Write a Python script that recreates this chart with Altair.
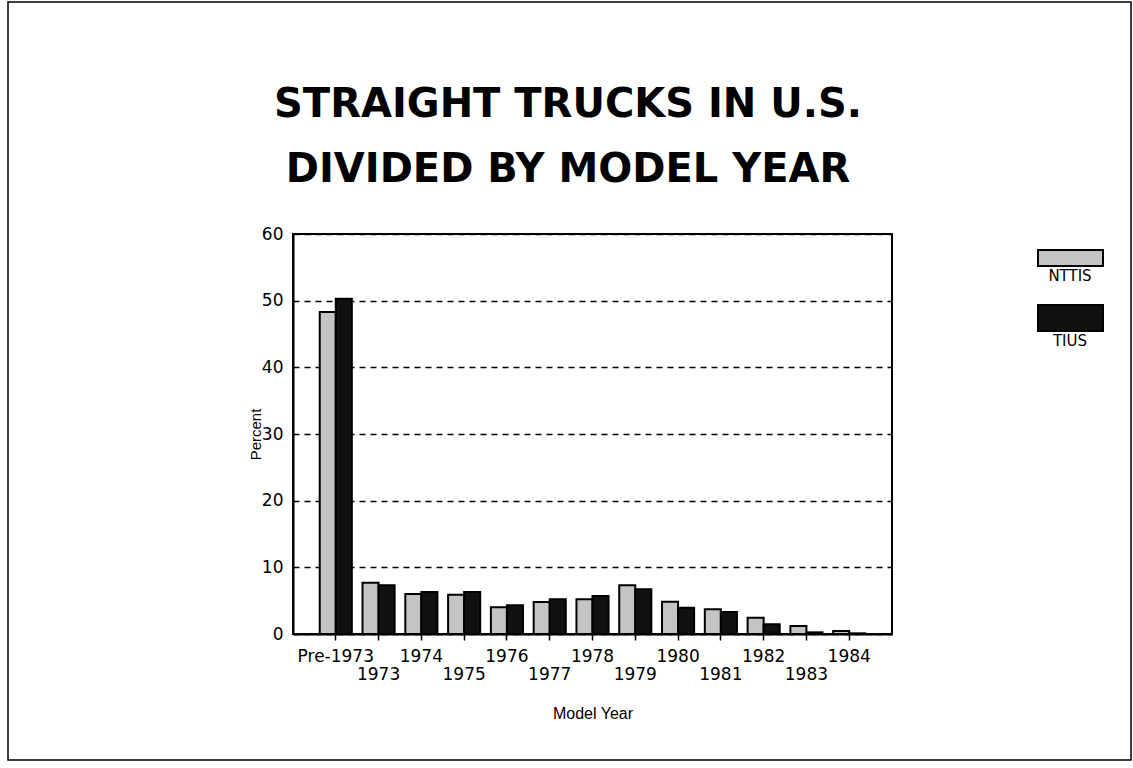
import altair as alt
import pandas as pd

# Model-year categories and the share (%) of straight trucks in each
years = ["Pre-1973", "1973", "1974", "1975", "1976", "1977", "1978",
         "1979", "1980", "1981", "1982", "1983", "1984"]
series = ["NTTIS", "TIUS"]
nttis = [48.3, 7.7, 6.0, 5.9, 4.0, 4.8, 5.2, 7.3, 4.85, 3.7, 2.45, 1.2, 0.45]
tius = [50.3, 7.3, 6.3, 6.3, 4.3, 5.2, 5.7, 6.7, 3.95, 3.3, 1.45, 0.25, 0.1]
y_ticks = [0, 10, 20, 30, 40, 50, 60]
title_lines = ["STRAIGHT TRUCKS IN U.S.", "DIVIDED BY MODEL YEAR"]
colors = ["#c4c4c4", "#111111"]

rows = []
for i, y in enumerate(years):
    rows.append({"year": y, "series": "NTTIS", "percent": nttis[i]})
    rows.append({"year": y, "series": "TIUS", "percent": tius[i]})
df = pd.DataFrame(rows)
leg_df = pd.DataFrame({"series": series})
title_df = pd.DataFrame({"line": title_lines})

W, H = 599, 400
LEFT, TOP = 293, 234
LABEL_FONT = "DejaVu Sans"
PLAIN_FONT = "Liberation Sans"

# staggered x labels: odd model years drop to a second line
stagger = ("(datum.value == 'Pre-1973' || toNumber(datum.value) % 2 == 0)"
           " ? datum.label : ['', datum.label]")

bars = alt.Chart(df).mark_bar(stroke="black", strokeWidth=2).encode(
    x=alt.X(
        "year:N", sort=years, title="Model Year",
        scale=alt.Scale(paddingInner=0.25, paddingOuter=0.625),
        axis=alt.Axis(
            labelAngle=0, labelExpr=stagger, labelFont=LABEL_FONT,
            labelFontSize=17, labelLineHeight=18, labelPadding=8,
            labelBaseline="top", tickSize=6, tickWidth=1.5, tickColor="black",
            domainColor="black", domainWidth=2, labelColor="black",
            titleFont=PLAIN_FONT, titleFontSize=16, titleFontWeight="normal",
            titleColor="black", titleY=84, titleBaseline="alphabetic",
        ),
    ),
    xOffset=alt.XOffset("series:N", sort=series,
                        scale=alt.Scale(paddingInner=0, paddingOuter=0)),
    y=alt.Y(
        "percent:Q", title="Percent",
        scale=alt.Scale(domain=[0, 60], nice=False),
        axis=alt.Axis(
            values=y_ticks, ticks=False, labelFont=LABEL_FONT,
            labelFontSize=17, labelPadding=10, labelColor="black",
            domainColor="black", domainWidth=2,
            grid=True, gridColor="black", gridDash=[6, 5], gridWidth=1.5,
            titleFont=PLAIN_FONT, titleFontSize=15, titleFontWeight="normal",
            titleColor="black", titleAngle=270, titleX=-30, titleY=H / 2,
            titleAlign="center", titleBaseline="bottom",
        ),
    ),
    color=alt.Color("series:N", scale=alt.Scale(domain=series, range=colors),
                    legend=None),
)

# two-line heading above the plot
title_layers = []
for i, line in enumerate(title_lines):
    title_layers.append(
        alt.Chart(title_df).transform_filter(alt.datum.line == line)
        .mark_text(font=LABEL_FONT, fontSize=40, fontWeight="bold",
                   align="center", baseline="alphabetic", color="black")
        .encode(x=alt.value(275), y=alt.value(-117 + 65 * i),
                text="line:N")
    )

# legend: one swatch per series with its name centred underneath
swatch_y = {"NTTIS": (16, 32), "TIUS": (71, 97)}
legend_layers = []
for i, s in enumerate(series):
    y0, y1 = swatch_y[s]
    base = alt.Chart(leg_df).transform_filter(alt.datum.series == s)
    legend_layers.append(
        base.mark_rect(fill=colors[i], stroke="black", strokeWidth=2).encode(
            x=alt.value(745), x2=alt.value(810),
            y=alt.value(y0), y2=alt.value(y1),
        )
    )
    legend_layers.append(
        base.mark_text(font=LABEL_FONT, fontSize=15, baseline="top",
                       align="center", color="black").encode(
            x=alt.value(777), y=alt.value(y1 + 3), text="series:N",
        )
    )

# thin page border around the whole figure
frame = alt.Chart(pd.DataFrame({"k": [0]})).mark_rect(
    fillOpacity=0, stroke="black", strokeWidth=1.5
).encode(
    x=alt.value(8 - LEFT), x2=alt.value(1131 - LEFT),
    y=alt.value(2 - TOP), y2=alt.value(760 - TOP),
)

chart = alt.layer(bars, *title_layers, *legend_layers, frame).properties(
    width=W, height=H,
    padding={"left": LEFT, "top": TOP, "right": 1133 - LEFT - W,
             "bottom": 768 - TOP - H},
    autosize=alt.AutoSizeParams(type="none"),
    background="white",
).configure_view(stroke="black", strokeWidth=2)

chart.save("out.html", embed_options={"renderer": "svg", "actions": False})
